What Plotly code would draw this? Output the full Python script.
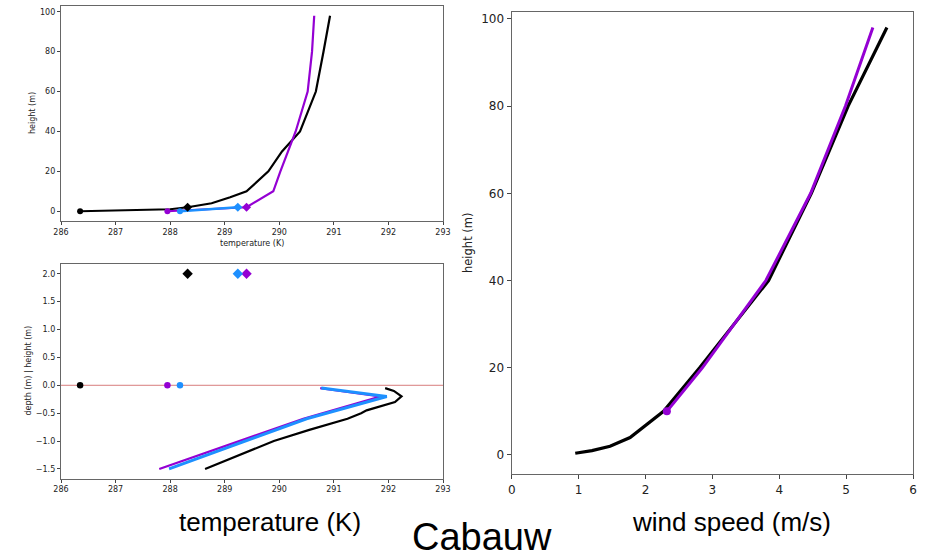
import plotly.graph_objects as go

W, H = 929, 559

# ---------------- data ----------------
# top-left: air temperature profile (K) vs height (m)
obs_air_h = [0, 0.5, 1, 2, 4, 7, 10, 20, 30, 40, 60, 80, 98]
obs_air_t = [286.35, 287.6, 288.0, 288.32, 288.76, 289.1, 289.40, 289.80, 290.05, 290.38, 290.67, 290.81, 290.93]
mod1_air_h = [0, 2, 10, 20, 40, 60, 80, 98]
mod1_air_t = [287.95, 289.40, 289.89, 290.02, 290.30, 290.52, 290.60, 290.64]
mod2_air_h = [0, 2]
mod2_air_t = [288.18, 289.24]

# surface (0 m) and screen-level (2 m) temperatures
surf_t = {"obs": 286.35, "mod1": 287.95, "mod2": 288.18}
t2m = {"obs": 288.32, "mod1": 289.40, "mod2": 289.24}

# bottom-left: soil temperature (K) vs depth (m)
obs_soil_d = [-0.05, -0.10, -0.20, -0.30, -0.45, -0.50, -0.60, -0.80, -1.00, -1.50]
obs_soil_t = [291.94, 292.10, 292.24, 292.12, 291.60, 291.50, 291.25, 290.55, 289.90, 288.64]
mod1_soil_d = [-0.05, -0.20, -0.60, -1.00, -1.50]
mod1_soil_t = [290.75, 291.85, 290.44, 289.25, 287.80]
mod2_soil_d = [-0.05, -0.20, -0.60, -1.00, -1.50]
mod2_soil_t = [290.77, 291.97, 290.50, 289.38, 287.98]

# right: wind speed (m/s) vs height (m)
obs_wind_h = [0.4, 1, 2, 4, 10, 20, 40, 60, 80, 98]
obs_wind_u = [0.95, 1.2, 1.47, 1.77, 2.27, 2.81, 3.84, 4.48, 5.03, 5.61]
mod1_wind_h = [10, 20, 40, 60, 80, 98]
mod1_wind_u = [2.32, 2.85, 3.80, 4.47, 4.99, 5.40]

temp_ticks = [286, 287, 288, 289, 290, 291, 292, 293]
height_ticks = [0, 20, 40, 60, 80, 100]
depth_ticks = [-1.5, -1.0, -0.5, 0.0, 0.5, 1.0, 1.5, 2.0]
wind_ticks = [0, 1, 2, 3, 4, 5, 6]

BLACK = "#000000"
PURPLE = "#9400D3"
BLUE = "#1E90FF"

fig = go.Figure()

def px_x(p):
    return p / W

def px_y(p):
    return 1 - p / H

# ---------------- top-left ----------------
fig.add_trace(go.Scatter(x=obs_air_t, y=obs_air_h, mode="lines", line=dict(color=BLACK, width=2.2),
                         xaxis="x", yaxis="y", showlegend=False))
fig.add_trace(go.Scatter(x=mod1_air_t, y=mod1_air_h, mode="lines", line=dict(color=PURPLE, width=2.2),
                         xaxis="x", yaxis="y", showlegend=False))
fig.add_trace(go.Scatter(x=mod2_air_t, y=mod2_air_h, mode="lines", line=dict(color=BLUE, width=2.5),
                         xaxis="x", yaxis="y", showlegend=False))
for key, col in (("obs", BLACK), ("mod1", PURPLE), ("mod2", BLUE)):
    fig.add_trace(go.Scatter(x=[surf_t[key]], y=[0], mode="markers",
                             marker=dict(color=col, size=6, symbol="circle"),
                             xaxis="x", yaxis="y", showlegend=False))
    fig.add_trace(go.Scatter(x=[t2m[key]], y=[2], mode="markers",
                             marker=dict(color=col, size=7, symbol="diamond"),
                             xaxis="x", yaxis="y", showlegend=False))

# ---------------- bottom-left ----------------
fig.add_trace(go.Scatter(x=[286, 293], y=[0, 0], mode="lines",
                         line=dict(color="rgba(200,70,70,0.7)", width=1),
                         xaxis="x2", yaxis="y2", showlegend=False))
fig.add_trace(go.Scatter(x=obs_soil_t, y=obs_soil_d, mode="lines", line=dict(color=BLACK, width=2.2),
                         xaxis="x2", yaxis="y2", showlegend=False))
fig.add_trace(go.Scatter(x=mod1_soil_t, y=mod1_soil_d, mode="lines", line=dict(color=PURPLE, width=2.2),
                         xaxis="x2", yaxis="y2", showlegend=False))
fig.add_trace(go.Scatter(x=mod2_soil_t, y=mod2_soil_d, mode="lines", line=dict(color=BLUE, width=3),
                         xaxis="x2", yaxis="y2", showlegend=False))
for key, col in (("obs", BLACK), ("mod1", PURPLE), ("mod2", BLUE)):
    fig.add_trace(go.Scatter(x=[surf_t[key]], y=[0], mode="markers",
                             marker=dict(color=col, size=6.5, symbol="circle"),
                             xaxis="x2", yaxis="y2", showlegend=False))
    fig.add_trace(go.Scatter(x=[t2m[key]], y=[2], mode="markers",
                             marker=dict(color=col, size=8, symbol="diamond"),
                             xaxis="x2", yaxis="y2", showlegend=False))

# ---------------- right ----------------
fig.add_trace(go.Scatter(x=obs_wind_u, y=obs_wind_h, mode="lines", line=dict(color=BLACK, width=3.2),
                         xaxis="x3", yaxis="y3", showlegend=False))
fig.add_trace(go.Scatter(x=mod1_wind_u, y=mod1_wind_h, mode="lines", line=dict(color=PURPLE, width=3),
                         xaxis="x3", yaxis="y3", showlegend=False))
fig.add_trace(go.Scatter(x=[mod1_wind_u[0]], y=[mod1_wind_h[0]], mode="markers",
                         marker=dict(color=PURPLE, size=8, symbol="circle"),
                         xaxis="x3", yaxis="y3", showlegend=False))

small_font = dict(family="DejaVu Sans", size=8, color="#222")
mid_font = dict(family="DejaVu Sans", size=12, color="#222")

def ax(domain, rng, tickvals, font, anchor, ticklen, fmt=None):
    d = dict(domain=domain, range=rng, tickmode="array", tickvals=tickvals,
             showgrid=False, zeroline=False, showline=True, mirror=True,
             linecolor="#666", linewidth=1.3, ticks="outside", ticklen=ticklen,
             tickwidth=1, tickcolor="#444", tickfont=font, anchor=anchor,
             automargin=False, fixedrange=True)
    if fmt:
        d["tickformat"] = fmt
    return d

fig.update_layout(
    width=W, height=H, autosize=False,
    margin=dict(l=0, r=0, t=0, b=0, pad=0, autoexpand=False),
    paper_bgcolor="white", plot_bgcolor="white",
    xaxis=ax([px_x(61), px_x(443)], [286, 293], temp_ticks, small_font, "y", 3),
    yaxis=ax([px_y(221), px_y(6)], [-4.9, 102.9], height_ticks, small_font, "x", 3),
    xaxis2=ax([px_x(61), px_x(443)], [286, 293], temp_ticks, small_font, "y2", 3),
    yaxis2=ax([px_y(478.7), px_y(264)], [-1.675, 2.175], depth_ticks, small_font, "x2", 3, ".1f"),
    xaxis3=ax([px_x(511.7), px_x(913)], [0, 6], wind_ticks, mid_font, "y3", 4),
    yaxis3=ax([px_y(474), px_y(12.3)], [-4.36, 101.5], height_ticks, mid_font, "x3", 4),
)

ann = []
def add_text(text, x, y, size, angle=0, family="DejaVu Sans", color="#222"):
    ann.append(dict(text=text, x=px_x(x), y=px_y(y), xref="paper", yref="paper",
                    xanchor="center", yanchor="middle", showarrow=False, textangle=angle,
                    font=dict(family=family, size=size, color=color)))

add_text("height (m)", 32, 113, 8, -90)
add_text("temperature (K)", 252, 243, 8)
add_text("depth (m) | height (m)", 27.5, 371, 8, -90)
add_text("height (m)", 468, 243, 11.5, -90)
add_text("temperature (K)", 270, 522, 26, family="Liberation Sans", color="#000")
add_text("wind speed (m/s)", 731, 522, 26, family="Liberation Sans", color="#000")
add_text("Cabauw", 482, 536.5, 38, family="Liberation Sans", color="#000")
fig.update_layout(annotations=ann)

fig.write_html("out.html", config={"displayModeBar": False})
